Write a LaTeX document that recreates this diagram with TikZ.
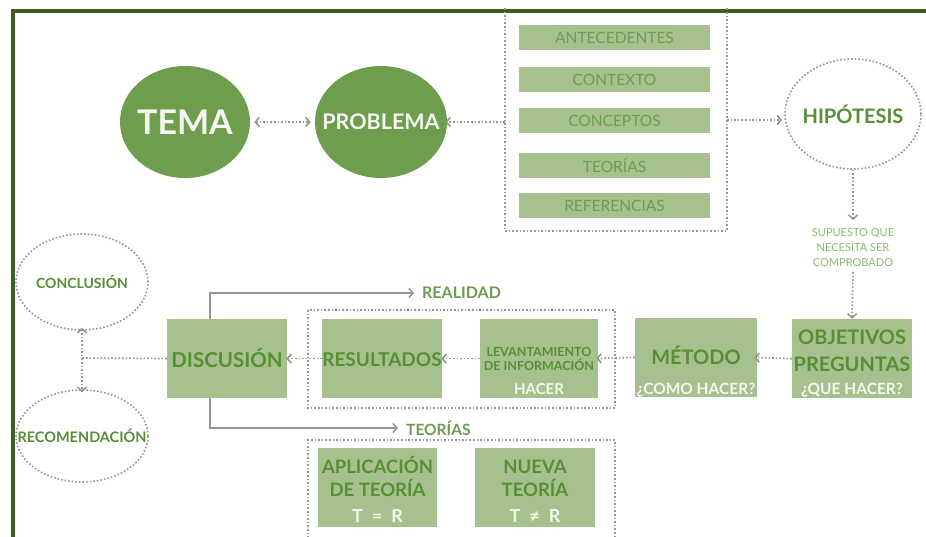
\documentclass[tikz,border=0pt]{standalone}
\usepackage{fontspec}
\setmainfont{Lato}
\usetikzlibrary{arrows.meta,shapes.geometric}
\definecolor{frame}{HTML}{3E5F24}
\definecolor{dkfill}{HTML}{6E9D4E}
\definecolor{ltfill}{HTML}{A7C18E}
\definecolor{txtg}{HTML}{578F36}
\definecolor{txtl}{HTML}{6E9C50}
\definecolor{txtp}{HTML}{8DB870}
\definecolor{conn}{HTML}{939A8A}
\definecolor{whtxt}{HTML}{F4F7F0}
\begin{document}
\begin{tikzpicture}[x=1pt,y=-1pt,
  circ/.style={ellipse,fill=dkfill,text=whtxt,font=\bfseries,inner sep=0pt},
  dcirc/.style={ellipse,draw=conn,dotted,line width=1.6pt,text=txtg,font=\bfseries,inner sep=0pt},
  item/.style={fill=ltfill,text=txtl,minimum width=191pt,minimum height=25pt,inner sep=0pt,font=\fontsize{15.5}{15.5}\selectfont},
  gbox/.style={fill=ltfill,minimum width=120pt,minimum height=79pt,inner sep=0pt},
  gt/.style={text=txtg,font=\bfseries,inner sep=0pt,anchor=base},
  wt/.style={text=whtxt,font=\bfseries,inner sep=0pt,anchor=base},
  dframe/.style={draw=conn,dotted,line width=1.6pt},
  darr/.style={draw=conn,dotted,line width=1.6pt,-{Straight Barb[length=4pt,width=9pt,line width=1.6pt]}},
  dbarr/.style={draw=conn,dotted,line width=1.6pt,{Straight Barb[length=4pt,width=9pt,line width=1.6pt]}-{Straight Barb[length=4pt,width=9pt,line width=1.6pt]}},
  sarr/.style={draw=conn,line width=1.6pt,-{Straight Barb[length=4pt,width=9pt,line width=1.6pt]}},
  lbl/.style={text=txtl,font=\bfseries\fontsize{15.5}{15.5}\selectfont,anchor=west,inner sep=0pt}
]
\useasboundingbox (0,0) rectangle (926,536);
\fill[white] (0,0) rectangle (926,536);
% frame
\draw[frame,line width=4pt] (13,540) -- (13,11) -- (930,11);

% top row
\node[circ,minimum width=130pt,minimum height=112pt,font=\bfseries\fontsize{34}{34}\selectfont] (tema) at (185,122) {\makebox[0pt]{TEMA}};
\node[circ,minimum width=132pt,minimum height=112pt,font=\bfseries\fontsize{21.5}{21.5}\selectfont] (prob) at (381,122) {\makebox[0pt]{PROBLEMA}};

% items frame
\draw[dframe] (505,8) -- (505,231) -- (727,231) -- (727,8);
\coordinate (boxL) at (505,122);
\coordinate (boxR) at (727,120);
\node[item] (ant) at (614.5,37.5) {ANTECEDENTES};
\node[item] (ctx) at (614.5,79.5) {CONTEXTO};
\node[item] (con) at (614.5,120.5) {CONCEPTOS};
\node[item] (teo) at (614.5,165.5) {TEORÍAS};
\node[item] (ref) at (614.5,205.5) {REFERENCIAS};

\node[dcirc,minimum width=136pt,minimum height=110pt,font=\bfseries\fontsize{20}{20}\selectfont] (hip) at (853,114) {\makebox[0pt]{HIPÓTESIS}};

\draw[dbarr] (tema.east) ++(4,0) -- ([xshift=-4pt]prob.west);
\draw[darr] (boxL) -- ([xshift=-2pt]prob.east);
\draw[darr] (boxR) -- ([xshift=-2pt]hip.west |- boxR);

% supuesto
\node[text=txtp,font=\fontsize{11}{15}\selectfont,align=center,inner sep=0pt] (sup) at (853,248) {SUPUESTO QUE\\NECESITA SER\\COMPROBADO};
\coordinate (supB) at (853,272);
\draw[darr] (hip.south) -- (853,220);

% second row boxes
\node[gbox] (obj) at (852,358.5) {};
\node[gt,font=\bfseries\fontsize{20}{20}\selectfont] at (852,344) {OBJETIVOS};
\node[gt,font=\bfseries\fontsize{20}{20}\selectfont] at (852,371) {PREGUNTAS};
\node[wt,font=\bfseries\fontsize{15.5}{15.5}\selectfont] at (852,394) {¿QUE HACER?};

\node[gbox,minimum width=122pt] (met) at (696,357.5) {};
\node[gt,font=\bfseries\fontsize{20}{20}\selectfont] at (696,364) {MÉTODO};
\node[wt,font=\bfseries\fontsize{15.5}{15.5}\selectfont] at (696,394) {¿COMO HACER?};

\draw[dframe] (308,310) rectangle (615,408);

\node[gbox,minimum width=118pt] (lev) at (539,358.5) {};
\node[gt,font=\bfseries\fontsize{12.5}{12.5}\selectfont] at (539,356) {LEVANTAMIENTO};
\node[gt,font=\bfseries\fontsize{12.5}{12.5}\selectfont] at (539,370.5) {DE INFORMACIÓN};
\node[wt,font=\bfseries\fontsize{15}{15}\selectfont] at (539,394) {HACER};

\node[gbox] (res) at (382,358.5) {};
\node[gt,font=\bfseries\fontsize{19}{19}\selectfont] at (382,366.5) {RESULTADOS};

\node[gbox] (dis) at (227,358.5) {};
\node[gt,font=\bfseries\fontsize{20.5}{20.5}\selectfont] at (227,367) {DISCUSIÓN};

\draw[darr] (supB) -- (obj.north);
\draw[darr] (obj.west) -- ([xshift=-3pt]met.east);
\draw[darr] (met.west) -- ([xshift=-2pt]lev.east);
\draw[darr] (lev.west) -- ([xshift=-1pt]res.east);
\draw[darr] (res.west) -- ([xshift=-1pt]dis.east);

% conclusion / recomendacion
\node[dcirc,minimum width=132pt,minimum height=96pt,font=\bfseries\fontsize{14}{14}\selectfont] (conc) at (82,282) {\makebox[0pt]{CONCLUSIÓN}};
\node[dcirc,minimum width=132pt,minimum height=92pt,font=\bfseries\fontsize{14.5}{14.5}\selectfont] (rec) at (82,436) {\makebox[0pt]{RECOMENDACIÓN}};
\coordinate (mid) at (82,358);
\draw[dframe] (dis.west) -- (mid);
\draw[dbarr] ([yshift=3pt]conc.south) -- ([yshift=-3pt]rec.north);

% realidad / teorias
\node[lbl,font=\bfseries\fontsize{16}{16}\selectfont] (real) at (422,293) {REALIDAD};
\node[lbl] (teor) at (406,428) {TEORÍAS};
\draw[sarr] ([xshift=-17pt]dis.north) |- ([xshift=-8pt]real.west);
\draw[sarr] ([xshift=-17pt]dis.south) |- ([xshift=-8pt]teor.west);

% bottom frame
\draw[dframe] (308,545) -- (308,440) -- (615,440) -- (615,545);
\node[gbox,minimum width=119pt] (apl) at (377.5,487.5) {};
\node[gt,font=\bfseries\fontsize{18.5}{18.5}\selectfont] at (377.5,473) {APLICACIÓN};
\node[gt,font=\bfseries\fontsize{18.5}{18.5}\selectfont] at (377.5,496) {DE TEORÍA};
\node[wt,font=\bfseries\fontsize{18}{18}\selectfont] at (377.5,522) {T\enspace=\enspace R};
\node[gbox,minimum width=120pt] (nue) at (535,487.5) {};
\node[gt,font=\bfseries\fontsize{18.5}{18.5}\selectfont] at (535,473) {NUEVA};
\node[gt,font=\bfseries\fontsize{18.5}{18.5}\selectfont] at (535,496) {TEORÍA};
\node[wt,font=\bfseries\fontsize{18}{18}\selectfont] at (535,522) {T\enspace≠\enspace R};
\end{tikzpicture}
\end{document}
